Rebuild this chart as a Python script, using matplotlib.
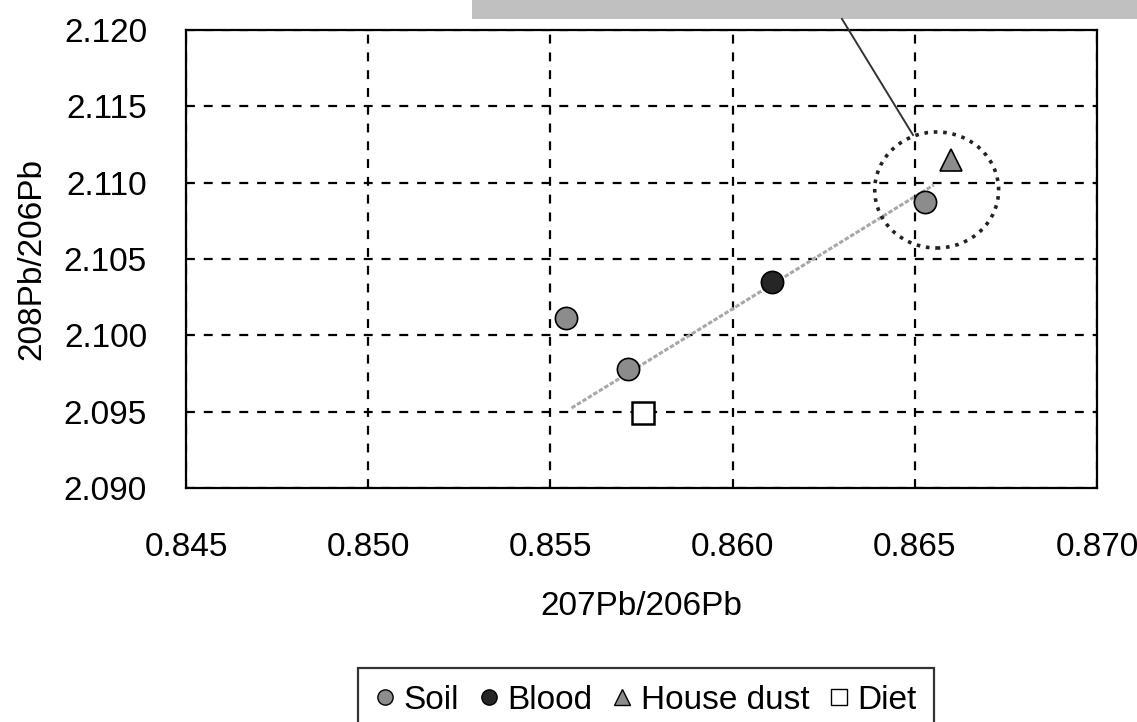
import matplotlib
matplotlib.use("Agg")
import matplotlib.pyplot as plt
from matplotlib.patches import Ellipse, Rectangle
from matplotlib.lines import Line2D

plt.rcParams['font.family'] = ['Liberation Sans', 'DejaVu Sans']

# Isotope ratios (207Pb/206Pb, 208Pb/206Pb)
soil_x = [0.85544, 0.85714, 0.86527]
soil_y = [2.10113, 2.09779, 2.10873]
blood_x = [0.86108]
blood_y = [2.10349]
dust_x = [0.86599]
dust_y = [2.11148]
diet_x = [0.85755]
diet_y = [2.09491]

# Mixing trend line end points
trend_x = [0.85558, 0.86552]
trend_y = [2.09524, 2.10985]

# Highlighted region around the house dust / soil cluster
ring_center = (0.86560, 2.10952)
ring_size = (0.0034, 0.0076)

x_ticks = [0.845, 0.850, 0.855, 0.860, 0.865, 0.870]
y_ticks = [2.090, 2.095, 2.100, 2.105, 2.110, 2.115, 2.120]

fig = plt.figure(figsize=(11.37, 7.22), dpi=100)
ax = fig.add_axes([186/1137, 1 - 488/722, (1097 - 186)/1137, (488 - 30)/722])

ax.set_xlim(0.845, 0.870)
ax.set_ylim(2.090, 2.120)
ax.set_xticks(x_ticks)
ax.set_yticks(y_ticks)
ax.set_xticklabels([f"{v:.3f}" for v in x_ticks])
ax.set_yticklabels([f"{v:.3f}" for v in y_ticks])
ax.tick_params(direction='in', length=5, width=1.2, labelsize=24,
               colors='black')
ax.tick_params(axis='x', pad=32)
ax.tick_params(axis='y', pad=28)
ax.grid(True, color='black', linestyle=(0, (4, 4)), linewidth=1.6)
for s in ax.spines.values():
    s.set_linewidth(1.6)

ax.plot(trend_x, trend_y, color='#a8a8a8', linewidth=2.2,
        linestyle=(0, (1.5, 0.6)), zorder=3)

ax.add_patch(Ellipse(ring_center, ring_size[0], ring_size[1], fill=False,
                     edgecolor='#222222', linewidth=2.6,
                     linestyle=(0, (1, 1.6)), zorder=3))

ms = 16
ax.plot(soil_x, soil_y, 'o', color='#8c8c8c', markeredgecolor='black',
        markeredgewidth=1.2, markersize=ms, zorder=4, linestyle='none')
ax.plot(blood_x, blood_y, 'o', color='#262626', markeredgecolor='black',
        markeredgewidth=1.2, markersize=ms, zorder=4, linestyle='none')
ax.plot(dust_x, dust_y, '^', color='#8c8c8c', markeredgecolor='black',
        markeredgewidth=1.2, markersize=ms, zorder=4, linestyle='none')
ax.plot(diet_x, diet_y, 's', color='white', markeredgecolor='black',
        markeredgewidth=1.8, markersize=ms, zorder=4, linestyle='none')

ax.set_xlabel('207Pb/206Pb', fontsize=24, labelpad=20)
ax.set_ylabel('208Pb/206Pb', fontsize=24, labelpad=12)

# Callout box at the top and its leader line
fig.patches.append(Rectangle((472/1137, 1 - 19/722), 1, 19/722 + 0.01,
                             transform=fig.transFigure, facecolor='#c0c0c0',
                             edgecolor='none', zorder=5))
fig.lines.append(Line2D([842/1137, 913/1137], [1 - 19/722, 1 - 135/722],
                        transform=fig.transFigure, color='#333333',
                        linewidth=1.4, zorder=6))

handles = [
    Line2D([], [], marker='o', linestyle='none', color='#8c8c8c',
           markeredgecolor='black', markersize=11),
    Line2D([], [], marker='o', linestyle='none', color='#262626',
           markeredgecolor='black', markersize=11),
    Line2D([], [], marker='^', linestyle='none', color='#8c8c8c',
           markeredgecolor='black', markersize=12),
    Line2D([], [], marker='s', linestyle='none', color='white',
           markeredgecolor='black', markersize=12),
]
leg = fig.legend(handles, ['Soil', 'Blood', 'House dust', 'Diet'],
                 loc='upper center', bbox_to_anchor=(646/1137, 1 - 668/722),
                 ncol=4, fontsize=24, frameon=True, fancybox=False,
                 handlelength=0.6, handletextpad=0.25, columnspacing=0.6,
                 borderpad=0.5, borderaxespad=0)
leg.get_frame().set_edgecolor('black')
leg.get_frame().set_linewidth(1.6)

fig.savefig('out.png', dpi=100)
